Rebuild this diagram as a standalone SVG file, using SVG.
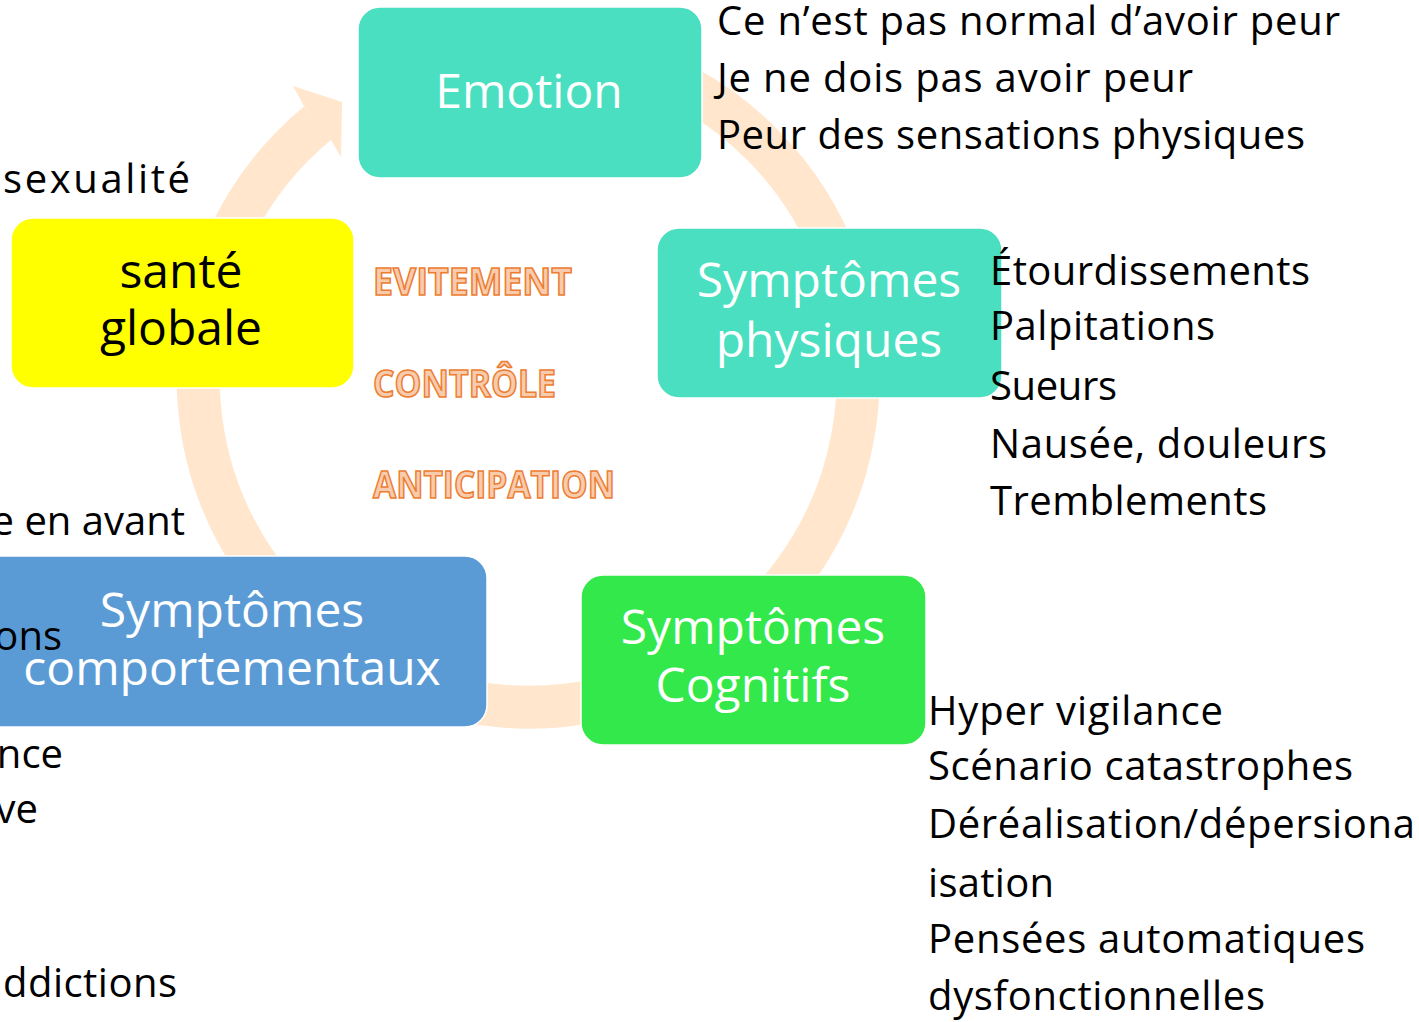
<svg xmlns="http://www.w3.org/2000/svg" width="1419" height="1022" viewBox="0 0 1419 1022">
<style>
.box{stroke:#ffffff;stroke-width:1.5}
.lbl{font-family:"Open Sans","Noto Sans",sans-serif;font-size:48px;text-anchor:middle}
.w{fill:#ffffff}
.k{fill:#000000}
.txt{font-family:"Open Sans","Noto Sans",sans-serif;font-size:40px;fill:#000000}
.end{text-anchor:end}
.org{font-family:"Open Sans","Noto Sans",sans-serif;font-weight:bold;font-size:38px;fill:#F8CBAD;stroke:#ED7D31;stroke-width:1.6}
</style>
<rect x="0" y="0" width="1419" height="1022" fill="#ffffff"/>
<g id="connectors">
  <path d="M 472,52 A 330 330 0 1 1 317.7,123" fill="none" stroke="#FFE6CC" stroke-width="43"/>
  <polygon points="304,106 293,86 342,102 341,157 331,140" fill="#FFE6CC"/>
</g>
<g id="node-emotion">
  <rect class="box" x="358" y="7" width="344" height="171" rx="22" fill="#4ADFC0"/>
  <text class="lbl w" x="529" y="108">Emotion</text>
</g>
<g id="node-physiques">
  <rect class="box" x="657" y="228" width="345" height="170" rx="22" fill="#4ADFC0"/>
  <text class="lbl w" x="829" y="297">Symptômes</text>
  <text class="lbl w" x="829" y="357">physiques</text>
</g>
<g id="node-cognitifs">
  <rect class="box" x="581" y="575" width="345" height="170" rx="22" fill="#33E84A"/>
  <text class="lbl w" x="753" y="644">Symptômes</text>
  <text class="lbl w" x="753" y="702">Cognitifs</text>
</g>
<g id="node-comportementaux">
  <rect class="box" x="-30" y="556" width="517" height="171" rx="22" fill="#5B9BD5"/>
  <text class="lbl w" x="232" y="627">Symptômes</text>
  <text class="lbl w" x="232" y="685">comportementaux</text>
</g>
<g id="node-sante">
  <rect class="box" x="11" y="218" width="343" height="170" rx="22" fill="#FFFF00"/>
  <text class="lbl k" x="181" y="288">santé</text>
  <text class="lbl k" x="181" y="345">globale</text>
</g>
<g id="center-labels">
  <text class="org" x="373" y="295" textLength="199" lengthAdjust="spacingAndGlyphs">EVITEMENT</text>
  <text class="org" x="373" y="397" textLength="183" lengthAdjust="spacingAndGlyphs">CONTRÔLE</text>
  <text class="org" x="373" y="498" textLength="242" lengthAdjust="spacingAndGlyphs">ANTICIPATION</text>
</g>
<g id="emotion-list">
  <text class="txt" x="717" y="35" textLength="623">Ce n’est pas normal d’avoir peur</text>
  <text class="txt" x="717" y="92" textLength="476">Je ne dois pas avoir peur</text>
  <text class="txt" x="717" y="149" textLength="588">Peur des sensations physiques</text>
</g>
<g id="physiques-list">
  <text class="txt" x="990" y="285" textLength="320">Étourdissements</text>
  <text class="txt" x="990" y="340" textLength="225">Palpitations</text>
  <text class="txt" x="990" y="400" textLength="127">Sueurs</text>
  <text class="txt" x="990" y="458" textLength="337">Nausée, douleurs</text>
  <text class="txt" x="990" y="515" textLength="277">Tremblements</text>
</g>
<g id="cognitifs-list">
  <text class="txt" x="928" y="725" textLength="295">Hyper vigilance</text>
  <text class="txt" x="928" y="780" textLength="425">Scénario catastrophes</text>
  <text class="txt" x="928" y="838" textLength="487">Déréalisation/dépersiona</text>
  <text class="txt" x="928" y="897" textLength="126">isation</text>
  <text class="txt" x="928" y="953" textLength="437">Pensées automatiques</text>
  <text class="txt" x="928" y="1010" textLength="337">dysfonctionnelles</text>
</g>
<g id="left-list">
  <text class="txt" x="3" y="193" textLength="187">sexualité</text>
  <text class="txt end" x="185" y="535">e en avant</text>
  <text class="txt end" x="62" y="650">ons</text>
  <text class="txt end" x="63" y="768">nce</text>
  <text class="txt end" x="38" y="823">ve</text>
  <text class="txt" x="3" y="997" textLength="174">ddictions</text>
</g>
</svg>
